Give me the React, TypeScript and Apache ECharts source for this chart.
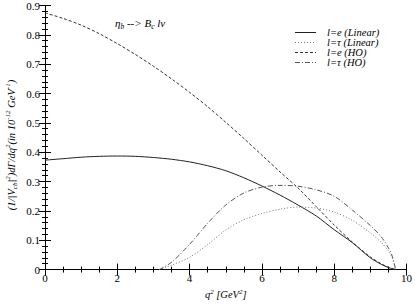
import React, { useEffect, useRef } from "react";
import * as echarts from "echarts";

const qE = [0, 0.5, 1, 1.5, 2, 2.5, 3, 3.5, 4, 4.5, 5, 5.5, 6, 6.5, 7, 7.5, 8, 8.5, 9, 9.3, 9.5, 9.7];
const eLinear = [0.373, 0.378, 0.383, 0.386, 0.387, 0.386, 0.382, 0.376, 0.367, 0.354, 0.337, 0.313, 0.285, 0.254, 0.22, 0.183, 0.136, 0.092, 0.04, 0.018, 0.007, 0];
const eHO = [0.875, 0.856, 0.833, 0.804, 0.77, 0.733, 0.693, 0.65, 0.604, 0.555, 0.502, 0.447, 0.39, 0.333, 0.278, 0.215, 0.152, 0.094, 0.043, 0.02, 0.008, 0];
const qTau = [3.16, 3.5, 4, 4.5, 5, 5.5, 6, 6.5, 7, 7.5, 8, 8.5, 9, 9.3, 9.5, 9.6, 9.7];
const tauLinear = [0, 0.015, 0.042, 0.085, 0.135, 0.17, 0.191, 0.206, 0.213, 0.21, 0.196, 0.168, 0.125, 0.093, 0.064, 0.042, 0];
const tauHO = [0, 0.025, 0.086, 0.158, 0.22, 0.261, 0.281, 0.287, 0.284, 0.272, 0.25, 0.203, 0.15, 0.112, 0.074, 0.048, 0];
const seriesNames = ["l=e (Linear)", "l=\u03c4 (Linear)", "l=e (HO)", "l=\u03c4 (HO)"];
const seriesColors = ["#222", "#777", "#333", "#555"];
const seriesDash: any[] = ["solid", [1, 2], [3, 2], [5, 2, 1, 2]];

const FONT = "Liberation Serif";

export default function App() {
  const ref = useRef<HTMLDivElement>(null);
  useEffect(() => {
    if (!ref.current) return;
    const chart = echarts.init(ref.current, null, { renderer: "svg" });
    const pair = (xs: number[], ys: number[]) => xs.map((x, i) => [x, ys[i]]);
    const xAxisBase = {
      type: "value",
      min: 0,
      max: 10,
      interval: 2,
      axisLine: { lineStyle: { color: "#000", width: 1 } },
      axisTick: { inside: true, length: 6, lineStyle: { color: "#000" } },
      minorTick: { show: true, splitNumber: 4, length: 3, lineStyle: { color: "#000" } },
      splitLine: { show: false },
    };
    const yAxisBase = {
      type: "value",
      min: 0,
      max: 0.9,
      interval: 0.1,
      axisLine: { show: true, lineStyle: { color: "#000", width: 1 } },
      axisTick: { show: true, inside: true, length: 6, lineStyle: { color: "#000" } },
      minorTick: { show: true, splitNumber: 5, length: 3, lineStyle: { color: "#000" } },
      splitLine: { show: false },
    };
    const series = [
      pair(qE, eLinear),
      pair(qTau, tauLinear),
      pair(qE, eHO),
      pair(qTau, tauHO),
    ].map((data, k) => ({
      name: seriesNames[k],
      type: "line",
      data,
      showSymbol: false,
      symbol: "none",
      smooth: 0.3,
      lineStyle: { color: seriesColors[k], width: 1, type: seriesDash[k] },
      xAxisIndex: 0,
      yAxisIndex: 0,
    }));
    const legendEls: any[] = [];
    seriesNames.forEach((n, k) => {
      const y = 32.5 + k * 10;
      legendEls.push({
        type: "line",
        shape: { x1: 295, y1: y, x2: 316, y2: y },
        style: { stroke: seriesColors[k], lineWidth: 1, lineDash: seriesDash[k] === "solid" ? null : seriesDash[k] },
      });
      legendEls.push({
        type: "text",
        x: 327,
        y,
        style: {
          text: n,
          fontFamily: FONT,
          fontStyle: "italic",
          fontSize: 10.5,
          fill: "#000",
          verticalAlign: "middle",
        },
      });
    });
    chart.setOption({
      animation: false,
      backgroundColor: "#fff",
      grid: { left: 45, right: 8, top: 4, bottom: 26 },
      xAxis: [
        {
          ...xAxisBase,
          position: "bottom",
          axisLabel: { fontFamily: FONT, fontSize: 11, color: "#000", margin: 3 },
          name: "{i|q}{s|2}{i| [GeV}{s|2}{i|]}",
          nameLocation: "middle",
          nameGap: 15,
          nameTextStyle: {
            rich: {
              i: { fontFamily: FONT, fontStyle: "italic", fontSize: 10.5, color: "#000", lineHeight: 12 },
              s: { fontFamily: FONT, fontStyle: "italic", fontSize: 7, color: "#000", verticalAlign: "top", lineHeight: 12 },
            },
          },
        },
        { ...xAxisBase, position: "top", axisLabel: { show: false } },
      ],
      yAxis: [
        {
          ...yAxisBase,
          position: "left",
          axisLabel: { fontFamily: FONT, fontSize: 11, color: "#000", margin: 5 },
        },
        { ...yAxisBase, position: "right", axisLabel: { show: false } },
      ],
      graphic: [
        ...legendEls,
        {
          type: "text",
          x: 115,
          y: 23,
          style: {
            text: "{n|\u03b7}{s|b}{n| --> B}{s|c}{n| l\u03bd}",
            verticalAlign: "middle",
            rich: {
              n: { fontFamily: FONT, fontStyle: "italic", fontSize: 11, fill: "#000", lineHeight: 15, verticalAlign: "middle" },
              s: { fontFamily: FONT, fontStyle: "italic", fontSize: 7.5, fill: "#000", lineHeight: 15, verticalAlign: "bottom" },
            },
          },
        },
        {
          type: "text",
          x: 11,
          y: 145,
          rotation: Math.PI / 2,
          style: {
            text: "{n|(1/|V}{b|cb}{n||}{p|2}{n|)d\u0393/dq}{p|2}{n|(in 10}{p|-12}{n| GeV}{p|-1}{n|)}",
            align: "center",
            verticalAlign: "middle",
            rich: {
              n: { fontFamily: FONT, fontStyle: "italic", fontSize: 10.5, fill: "#000", lineHeight: 14, verticalAlign: "middle" },
              p: { fontFamily: FONT, fontStyle: "italic", fontSize: 7, fill: "#000", lineHeight: 14, verticalAlign: "top" },
              b: { fontFamily: FONT, fontStyle: "italic", fontSize: 7, fill: "#000", lineHeight: 14, verticalAlign: "bottom" },
            },
          },
        },
      ],
      series,
    });
    return () => chart.dispose();
  }, []);
  return <div ref={ref} style={{ position: "fixed", left: 0, top: 0, width: 415, height: 305 }} />;
}
